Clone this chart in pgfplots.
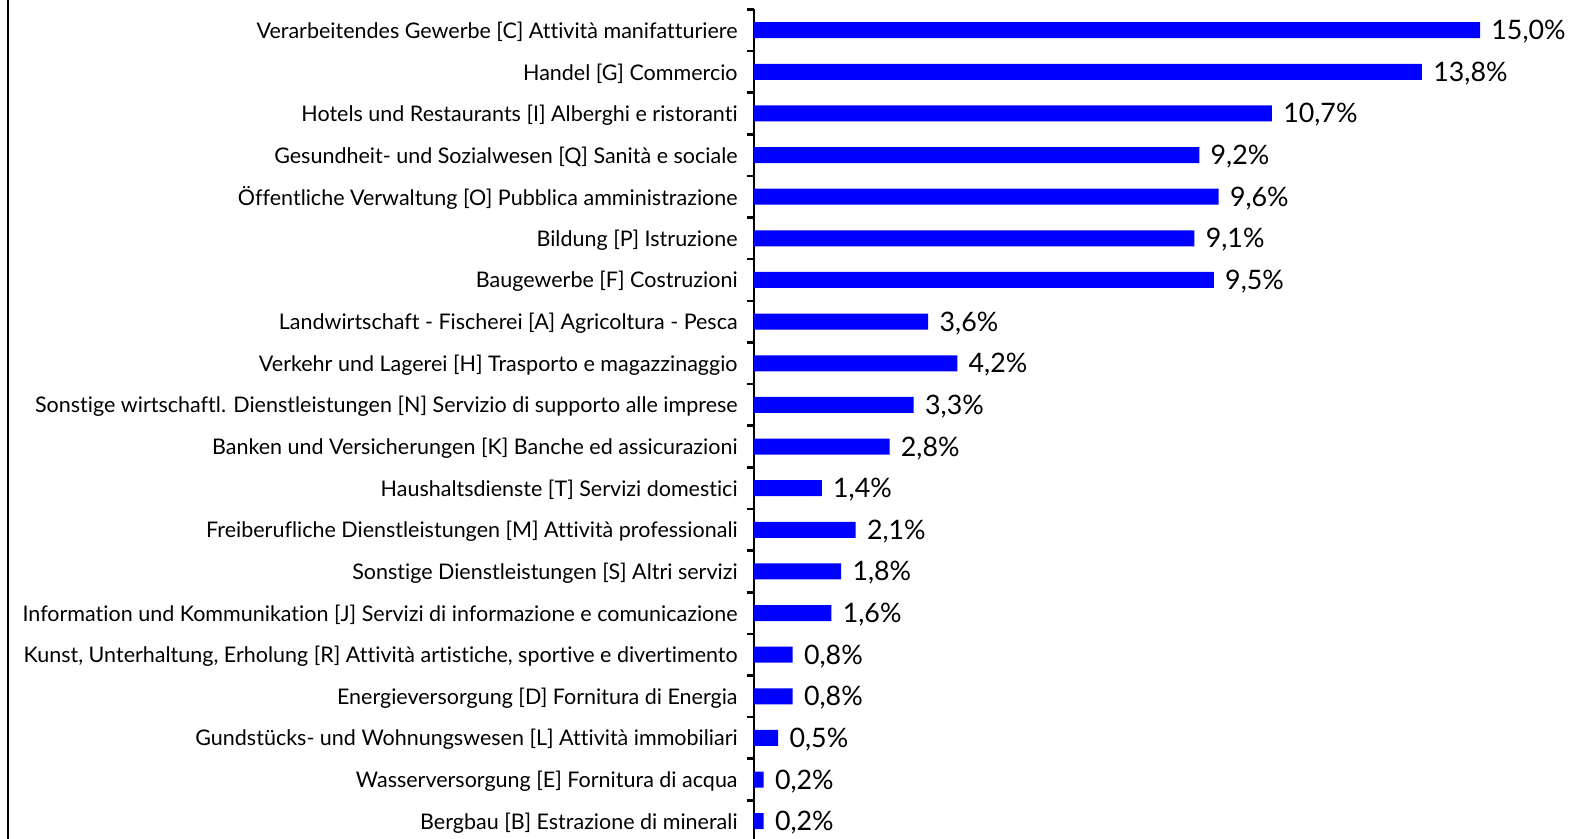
\documentclass[border=0pt]{standalone}
\usepackage{fontspec}
\setmainfont[Ligatures=CommonOff]{Lato}
\usepackage{pgfplots}
\usepackage{pgfplotstable}
\pgfplotsset{compat=1.18}

% share of employees by sector, top to bottom
\pgfplotstableread{
idx val
0 15.0
1 13.8
2 10.7
3 9.2
4 9.6
5 9.1
6 9.5
7 3.6
8 4.2
9 3.3
10 2.8
11 1.4
12 2.1
13 1.8
14 1.6
15 0.8
16 0.8
17 0.5
18 0.2
19 0.2
}\shares

\begin{document}
\begin{tikzpicture}
\path[use as bounding box] (-377pt,1.5pt) rectangle (409pt,421pt);
\draw[line width=1pt] (-373pt,0pt) -- (-373pt,425pt);
\begin{axis}[
  at={(0,0)}, anchor=south west,
  scale only axis, width=409pt, height=416.3pt,
  xbar, bar width=8pt,
  xmin=0, xmax=16.9,
  ymin=-0.5, ymax=19.5, y dir=reverse,
  axis x line=none, axis y line=left,
  axis line style={line width=1.3pt,-},
  ytick={0,...,19},
  yticklabels={
    {Verarbeitendes Gewerbe [C] Attività manifatturiere},
    {Handel [G] Commercio},
    {Hotels und Restaurants [I] Alberghi e ristoranti},
    {Gesundheit- und Sozialwesen [Q] Sanità e sociale},
    {Öffentliche Verwaltung [O] Pubblica amministrazione},
    {Bildung [P] Istruzione},
    {Baugewerbe [F] Costruzioni},
    {Landwirtschaft - Fischerei [A] Agricoltura - Pesca},
    {Verkehr und Lagerei [H] Trasporto e magazzinaggio},
    {Sonstige wirtschaftl. Dienstleistungen [N] Servizio di supporto alle imprese},
    {Banken und Versicherungen [K] Banche ed assicurazioni},
    {Haushaltsdienste [T] Servizi domestici},
    {Freiberufliche Dienstleistungen [M] Attività professionali},
    {Sonstige Dienstleistungen [S] Altri servizi},
    {Information und Kommunikation [J] Servizi di informazione e comunicazione},
    {Kunst, Unterhaltung, Erholung [R] Attività artistiche, sportive e divertimento},
    {Energieversorgung [D] Fornitura di Energia},
    {Gundstücks- und Wohnungswesen [L] Attività immobiliari},
    {Wasserversorgung [E] Fornitura di acqua},
    {Bergbau [B] Estrazione di minerali}},
  minor ytick={-0.5,0.5,...,19.5},
  major tick length=0pt, minor tick length=3.5pt, tick align=outside,
  minor tick style={line width=1.3pt, black},
  yticklabel style={anchor=east, inner sep=0pt, xshift=-8pt, yshift=-0.8pt,
    font=\fontsize{10.75}{12}\selectfont},
  nodes near coords={\pgfmathprintnumber[fixed,fixed zerofill,precision=1,use comma]{\pgfplotspointmeta}\%},
  nodes near coords style={anchor=west, inner sep=0pt, xshift=5.5pt, yshift=-0.8pt,
    font=\fontsize{13.4}{14}\selectfont, black},
  /pgf/number format/assume math mode=true,
  clip=false,
]
\addplot[fill=blue, draw=none] table[x=val,y=idx]{\shares};
\end{axis}
\end{tikzpicture}
\end{document}
